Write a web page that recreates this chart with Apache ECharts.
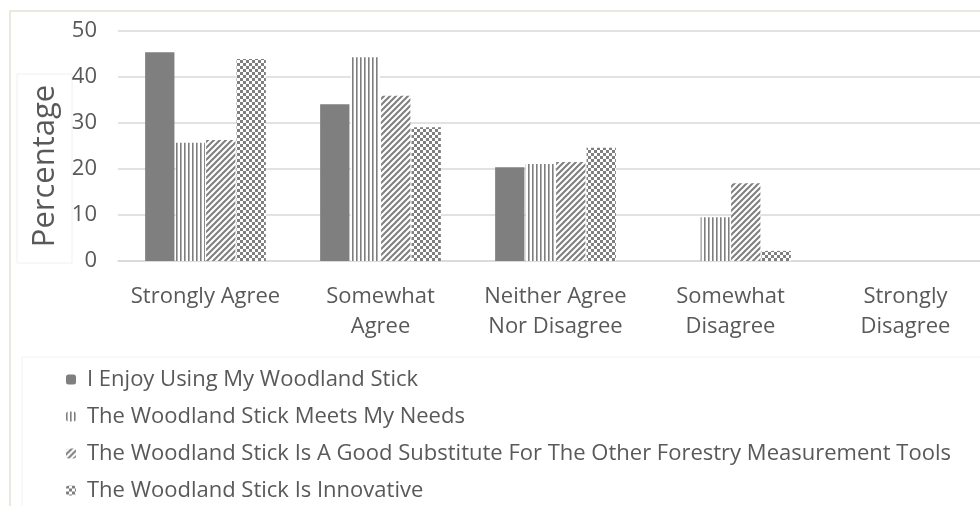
<!DOCTYPE html>
<html>
<head>
<meta charset="utf-8">
<script src="https://cdn.jsdelivr.net/npm/echarts@6/dist/echarts.min.js"></script>
<style>html,body{margin:0;padding:0;background:#fff}#c{width:980px;height:506px}</style>
</head>
<body>
<div id="c"></div>
<script>
const categories = ['Strongly Agree', 'Somewhat\nAgree', 'Neither Agree\nNor Disagree', 'Somewhat\nDisagree', 'Strongly\nDisagree'];
const seriesNames = [
  'I Enjoy Using My Woodland Stick',
  'The Woodland Stick Meets My Needs',
  'The Woodland Stick Is A Good Substitute For The Other Forestry Measurement Tools',
  'The Woodland Stick Is Innovative'
];
const enjoy = [45.4, 34.1, 20.4, 0, 0];
const meetsNeeds = [25.7, 44.3, 21.1, 9.5, 0];
const substitute = [26.3, 35.9, 21.5, 16.9, 0];
const innovative = [43.9, 29.1, 24.6, 2.2, 0];
const yTicks = { min: 0, max: 50, interval: 10 };

const GRAY = '#7f7f7f';
function pattern(kind) {
  const c = document.createElement('canvas');
  const s = kind === 'vert' ? 4 : 6;
  c.width = s; c.height = s;
  const g = c.getContext('2d');
  g.fillStyle = '#fff'; g.fillRect(0, 0, s, s);
  g.fillStyle = GRAY; g.strokeStyle = GRAY;
  if (kind === 'vert') {
    g.fillRect(0, 0, 1.6, s);
  } else if (kind === 'diag') {
    g.lineWidth = 2;
    g.beginPath();
    g.moveTo(-1, s + 1); g.lineTo(s + 1, -1);
    g.moveTo(-1, 1); g.lineTo(1, -1);
    g.moveTo(s - 1, s + 1); g.lineTo(s + 1, s - 1);
    g.stroke();
  } else if (kind === 'check') {
    g.fillRect(0, 0, 3, 3); g.fillRect(3, 3, 3, 3);
  }
  return { image: c, repeat: 'repeat' };
}

const fills = [GRAY, pattern('vert'), pattern('diag'), pattern('check')];
const values = [enjoy, meetsNeeds, substitute, innovative];

const chart = echarts.init(document.getElementById('c'), null, { renderer: 'canvas' });
const font = '"Open Sans", sans-serif';
chart.setOption({
  animation: false,
  backgroundColor: '#fff',
  textStyle: { fontFamily: font, color: '#595959' },
  graphic: [
    { type: 'rect', shape: { x: 10, y: 11, width: 1000, height: 520 }, style: { fill: 'none', stroke: '#e2e2d6', lineWidth: 1.5 }, z: -1 },
    { type: 'rect', shape: { x: 17, y: 74, width: 55, height: 189 }, style: { fill: 'none', stroke: '#f0f0f0', lineWidth: 1 }, z: -1 },
    { type: 'rect', shape: { x: 22, y: 357, width: 1000, height: 200 }, style: { fill: 'none', stroke: '#f2f2f2', lineWidth: 1 }, z: -1 }
  ],
  grid: { left: 118, width: 875, top: 31, height: 230, outerBoundsMode: 'none', containLabel: false },
  legend: {
    orient: 'vertical', left: 66, top: 368, padding: 0,
    itemWidth: 10, itemHeight: 10, itemGap: 14,
    textStyle: { fontFamily: font, fontSize: 22, lineHeight: 23, color: '#595959', padding: [0, 0, 0, 6] },
    data: seriesNames
  },
  xAxis: {
    type: 'category', data: categories,
    axisLine: { lineStyle: { color: '#d9d9d9', width: 1.5 } },
    axisTick: { show: false },
    axisLabel: { fontFamily: font, fontSize: 22, color: '#595959', lineHeight: 30, margin: 21, interval: 0 }
  },
  yAxis: {
    type: 'value', min: yTicks.min, max: yTicks.max, interval: yTicks.interval,
    name: 'Percentage', nameLocation: 'middle', nameGap: 56, nameRotate: 90,
    nameTextStyle: { fontFamily: font, fontSize: 31, color: '#595959', padding: [0, 40, 0, 0] },
    axisLine: { show: false }, axisTick: { show: false },
    axisLabel: { fontFamily: font, fontSize: 22, color: '#595959', margin: 21 },
    splitLine: { lineStyle: { color: '#d9d9d9', width: 1.5 } }
  },
  series: values.map((v, i) => ({
    name: seriesNames[i], type: 'bar', data: v,
    barGap: '4%', barCategoryGap: '31%',
    itemStyle: { color: fills[i] }
  }))
});
</script>
</body>
</html>
